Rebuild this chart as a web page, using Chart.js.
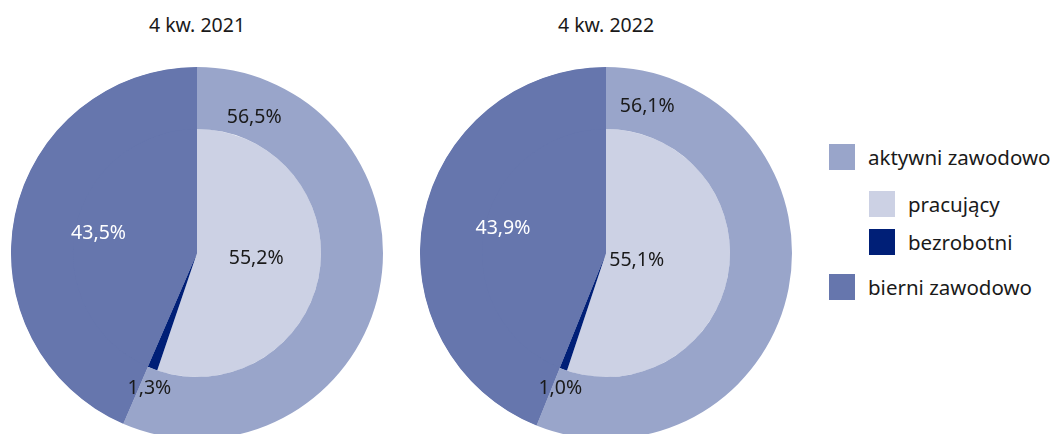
<!DOCTYPE html>
<html>
<head>
<meta charset="utf-8">
<script src="https://cdn.jsdelivr.net/npm/chart.js@4/dist/chart.umd.min.js"></script>
<style>
  html, body { margin: 0; padding: 0; overflow: hidden; background: #fff; }
  body { width: 1051px; height: 434px; position: relative; font-family: "Noto Sans", sans-serif; color: #1a1a1a; }
  .title { position: absolute; top: 11px; width: 200px; text-align: center; font-size: 19.5px; }
  canvas { position: absolute; }
  .leg { position: absolute; height: 26px; font-size: 20.5px; line-height: 26px; white-space: nowrap; }
  .leg .box { display: inline-block; width: 26px; height: 26px; vertical-align: top; margin-right: 13px; }
</style>
</head>
<body>
<div class="title" style="left:97px">4 kw. 2021</div>
<div class="title" style="left:506px">4 kw. 2022</div>
<canvas id="pie2021" width="372" height="372" style="left:11px;top:67px"></canvas>
<canvas id="pie2022" width="372" height="372" style="left:420px;top:67px"></canvas>
<div id="legend"></div>
<script>
var periods = ["4 kw. 2021", "4 kw. 2022"];
var categories = ["aktywni zawodowo", "pracujący", "bezrobotni", "bierni zawodowo"];
var aktywni = [56.5, 56.1];
var pracujacy = [55.2, 55.1];
var bezrobotni = [1.3, 1.0];
var bierni = [43.5, 43.9];

var colors = ["#99a5ca", "#ccd1e4", "#001f77", "#6676ad"];

// label placement: angle clockwise from top (deg), radius as share of pie radius
var labelSpots = [
  [
    { ds: 0, i: 0, a: 22.9, r: 0.79 },
    { ds: 1, i: 0, a: 95.7, r: 0.32 },
    { ds: 0, i: 1, a: 281.4, r: 0.54, color: "#ffffff" },
    { ds: 1, i: 1, a: 199.4, r: 0.77 },
  ],
  [
    { ds: 0, i: 0, a: 15.7, r: 0.82 },
    { ds: 1, i: 0, a: 104, r: 0.17 },
    { ds: 0, i: 1, a: 283.6, r: 0.57, color: "#ffffff" },
    { ds: 1, i: 1, a: 198.6, r: 0.77 },
  ],
];

// fills the whole "bierni" sector under the rings so no seam shows between them
var biernyUnderlay = {
  id: "biernyUnderlay",
  beforeDatasetsDraw: function (chart) {
    var arc = chart.getDatasetMeta(0).data[1];
    var ctx = chart.ctx;
    ctx.save();
    ctx.beginPath();
    ctx.moveTo(arc.x, arc.y);
    ctx.arc(arc.x, arc.y, arc.outerRadius - 0.5, arc.startAngle, arc.endAngle);
    ctx.closePath();
    ctx.fillStyle = colors[3];
    ctx.fill();
    ctx.restore();
  },
};

var sliceLabels = {
  id: "sliceLabels",
  afterDatasetsDraw: function (chart, args, opts) {
    var ctx = chart.ctx;
    var arc = chart.getDatasetMeta(0).data[0];
    var cx = arc.x, cy = arc.y, R = arc.outerRadius;
    ctx.save();
    ctx.font = '19.5px "Noto Sans"';
    ctx.textAlign = "center";
    ctx.textBaseline = "middle";
    opts.items.forEach(function (it) {
      var v = chart.data.datasets[it.ds].data[it.i];
      var th = it.a * Math.PI / 180;
      ctx.fillStyle = it.color || "#1a1a1a";
      ctx.fillText(v.toFixed(1).replace(".", ",") + "%",
        cx + it.r * R * Math.sin(th), cy - it.r * R * Math.cos(th));
    });
    ctx.restore();
  },
};

["pie2021", "pie2022"].forEach(function (id, k) {
  new Chart(document.getElementById(id), {
    type: "pie",
    data: {
      datasets: [
        {
          label: "aktywni / bierni",
          data: [aktywni[k], bierni[k]],
          backgroundColor: [colors[0], colors[3]],
          weight: 1,
        },
        {
          label: "pracujący / bezrobotni / bierni",
          data: [pracujacy[k], bezrobotni[k], bierni[k]],
          backgroundColor: [colors[1], colors[2], colors[3]],
          weight: 2,
        },
      ],
    },
    options: {
      responsive: false,
      animation: false,
      events: [],
      borderWidth: 0,
      hoverBorderWidth: 0,
      hoverOffset: 0,
      layout: { padding: 0 },
      plugins: {
        legend: { display: false },
        tooltip: { enabled: false },
        sliceLabels: { items: labelSpots[k] },
      },
    },
    plugins: [biernyUnderlay, sliceLabels],
  });
});

// legend (sub-items indented)
var legendRows = [
  { i: 0, x: 829, y: 144 },
  { i: 1, x: 869, y: 191 },
  { i: 2, x: 869, y: 229 },
  { i: 3, x: 829, y: 274 },
];
var legend = document.getElementById("legend");
legendRows.forEach(function (row) {
  var d = document.createElement("div");
  d.className = "leg";
  d.style.left = row.x + "px";
  d.style.top = row.y + "px";
  d.innerHTML = '<span class="box" style="background:' + colors[row.i] + '"></span>' + categories[row.i];
  legend.appendChild(d);
});
</script>
</body>
</html>
